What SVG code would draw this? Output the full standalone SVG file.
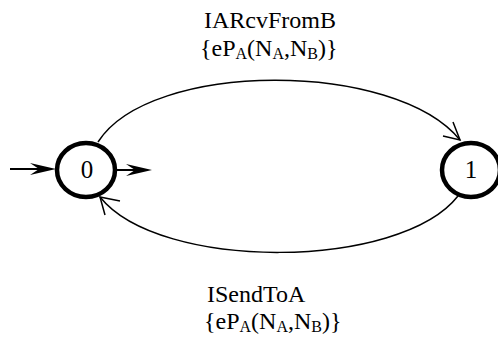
<svg xmlns="http://www.w3.org/2000/svg" width="498" height="343" viewBox="0 0 498 343">
  <style>
    .state { fill: #ffffff; stroke: #000000; stroke-width: 4.5; }
    .lbl { font-family: "Liberation Serif", "Times New Roman", serif; font-size: 24px; fill: #000000; }
    .num { font-size: 25px; }
    .sub { font-size: 16px; }
    .edge { fill: none; stroke: #000000; stroke-width: 1.5; }
    .head { fill: none; stroke: #000000; stroke-width: 1.5; }
  </style>
  <defs>
    <!-- barbed arrowhead used on the entry arrows -->
    <path id="barb" d="M0,0 L-26,-6 L-17,0 L-26,6 Z" fill="#000000"/>
  </defs>

  <rect width="498" height="343" fill="#ffffff"/>

  <g id="connectors">
    <!-- entry arrow into state 0 -->
    <line x1="10" y1="169" x2="40" y2="169" stroke="#000" stroke-width="2"/>
    <use href="#barb" x="56" y="169"/>
    <!-- short arrow leaving state 0 -->
    <line x1="114" y1="170" x2="135" y2="170" stroke="#000" stroke-width="2"/>
    <use href="#barb" x="152" y="170"/>
    <!-- 0 -> 1 -->
    <path class="edge" d="M98,142 C150,60 395,60 460,140"/>
    <path class="head" d="M453,122 L460,140 L443,136"/>
    <!-- 1 -> 0 -->
    <path class="edge" d="M458,196 C400,270 160,272 100,197"/>
    <path class="head" d="M120,201 L100,197 L105,215"/>
  </g>

  <g id="node-0">
    <ellipse class="state" cx="86" cy="170" rx="29" ry="27"/>
    <text class="lbl num" x="87" y="178" text-anchor="middle">0</text>
  </g>

  <g id="node-1">
    <ellipse class="state" cx="471" cy="170" rx="29" ry="27"/>
    <text class="lbl num" x="471" y="178" text-anchor="middle">1</text>
  </g>

  <g id="label-top">
    <text class="lbl" x="204" y="28">IARcvFromB</text>
    <text class="lbl" x="200" y="56">{eP<tspan class="sub" dy="3">A</tspan><tspan dy="-3">(N</tspan><tspan class="sub" dy="3">A</tspan><tspan dy="-3">,N</tspan><tspan class="sub" dy="3">B</tspan><tspan dy="-3">)}</tspan></text>
  </g>

  <g id="label-bottom">
    <text class="lbl" x="207" y="302">ISendToA</text>
    <text class="lbl" x="204" y="329">{eP<tspan class="sub" dy="3">A</tspan><tspan dy="-3">(N</tspan><tspan class="sub" dy="3">A</tspan><tspan dy="-3">,N</tspan><tspan class="sub" dy="3">B</tspan><tspan dy="-3">)}</tspan></text>
  </g>
</svg>
